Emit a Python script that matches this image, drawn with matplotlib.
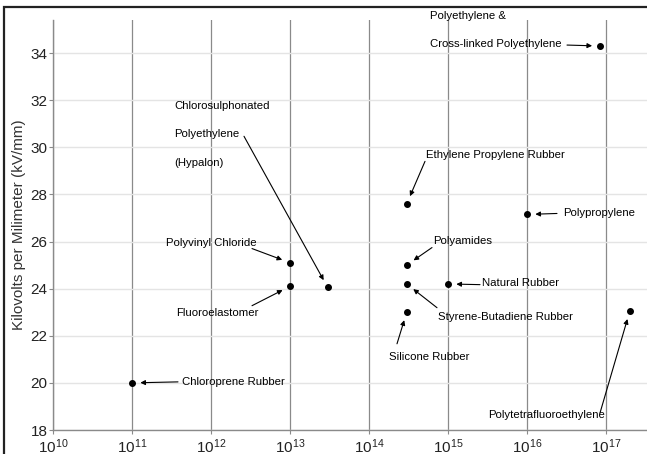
"""
Dielectric strength (kV/mm) vs volume resistivity for common insulation materials.
"""
import numpy as np
import matplotlib
matplotlib.use('Agg')
import matplotlib.pyplot as plt
from matplotlib.patches import Rectangle

plt.rcParams['font.family'] = ['Liberation Sans', 'DejaVu Sans']

# Data
materials = ['Chloroprene Rubber', 'Polyvinyl Chloride', 'Fluoroelastomer',
             'Chlorosulphonated\nPolyethylene\n(Hypalon)',
             'Ethylene Propylene Rubber', 'Polyamides', 'Styrene-Butadiene Rubber',
             'Silicone Rubber', 'Natural Rubber', 'Polypropylene',
             'Polyethylene &\nCross-linked Polyethylene', 'Polytetrafluoroethylene']
resistivity = [1e11, 1e13, 1e13, 3e13, 3e14, 3e14, 3e14, 3e14, 1e15, 1e16, 8.5e16, 2e17]
kv_per_mm = [20.0, 25.1, 24.1, 24.05, 27.6, 25.0, 24.2, 23.0, 24.2, 27.15, 34.3, 23.05]

# label layout in pixel space of the 647x454 figure: (text x, text y, arrow start x, y)
PX_PER_DEC = 79.0
PX_PER_KV = 23.5
layout = [
    (182, 381, 178, 381),
    (166, 242, 252, 248),
    (176, 312, 252, 305),
    (174, 134, 244, 136),
    (426, 155, 425, 161),
    (433, 240, 432, 247),
    (438, 316, 437, 307),
    (389, 356, 397, 343),
    (482, 282, 480, 284),
    (563, 213, 557, 213),
    (430, 30, 567, 45),
    (488, 414, 600, 412),
]


def px_to_data(px, py):
    return 10 ** (10 + (px - 53) / PX_PER_DEC), 34 - (py - 53) / PX_PER_KV


fig = plt.figure(figsize=(6.47, 4.54), dpi=100)
ax = fig.add_axes([53 / 647, 24 / 454, 594 / 647, 410 / 454])

ax.set_xscale('log')
ax.set_xlim(1e10, 10 ** (10 + 594 / PX_PER_DEC))
ax.set_ylim(18, 34 + 33 / PX_PER_KV)
ax.set_xticks([10.0 ** k for k in range(10, 18)])
ax.set_xticks([], minor=True)
ax.set_yticks(range(18, 35, 2))

ax.xaxis.grid(True, color='#8a8a8a', lw=0.9)
ax.yaxis.grid(True, color='#e4e4e4', lw=1.0)
ax.set_axisbelow(True)

for side in ['top', 'right']:
    ax.spines[side].set_visible(False)
for side in ['left', 'bottom']:
    ax.spines[side].set_color('#8a8a8a')
    ax.spines[side].set_linewidth(1.0)
ax.tick_params(axis='both', length=3, color='#8a8a8a', labelsize=11, labelcolor='#222222', pad=1)
ax.tick_params(axis='x', pad=2)

ax.set_ylabel('Kilovolts per Milimeter (kV/mm)', fontsize=11, color='#333333', labelpad=3)

ax.plot(resistivity, kv_per_mm, 'o', color='black', markersize=4, zorder=5)

for name, x, y, (tx, ty, sx, sy) in zip(materials, resistivity, kv_per_mm, layout):
    txd, tyd = px_to_data(tx, ty)
    ax.text(txd, tyd, name, ha='left', va='center', fontsize=8.2,
            linespacing=3.3, color='black')
    sxd, syd = px_to_data(sx, sy)
    ax.annotate('', xy=(x, y), xytext=(sxd, syd),
                arrowprops=dict(arrowstyle='-|>', color='black', lw=0.8,
                                mutation_scale=7, shrinkA=0, shrinkB=6))

# image frame
fig.patches.append(Rectangle((4 / 647, -0.1), 1.2, (454 - 7) / 454 + 0.1,
                             transform=fig.transFigure, fill=False,
                             edgecolor='#222222', lw=1.6))

plt.savefig('out.png', dpi=100)
plt.close()
